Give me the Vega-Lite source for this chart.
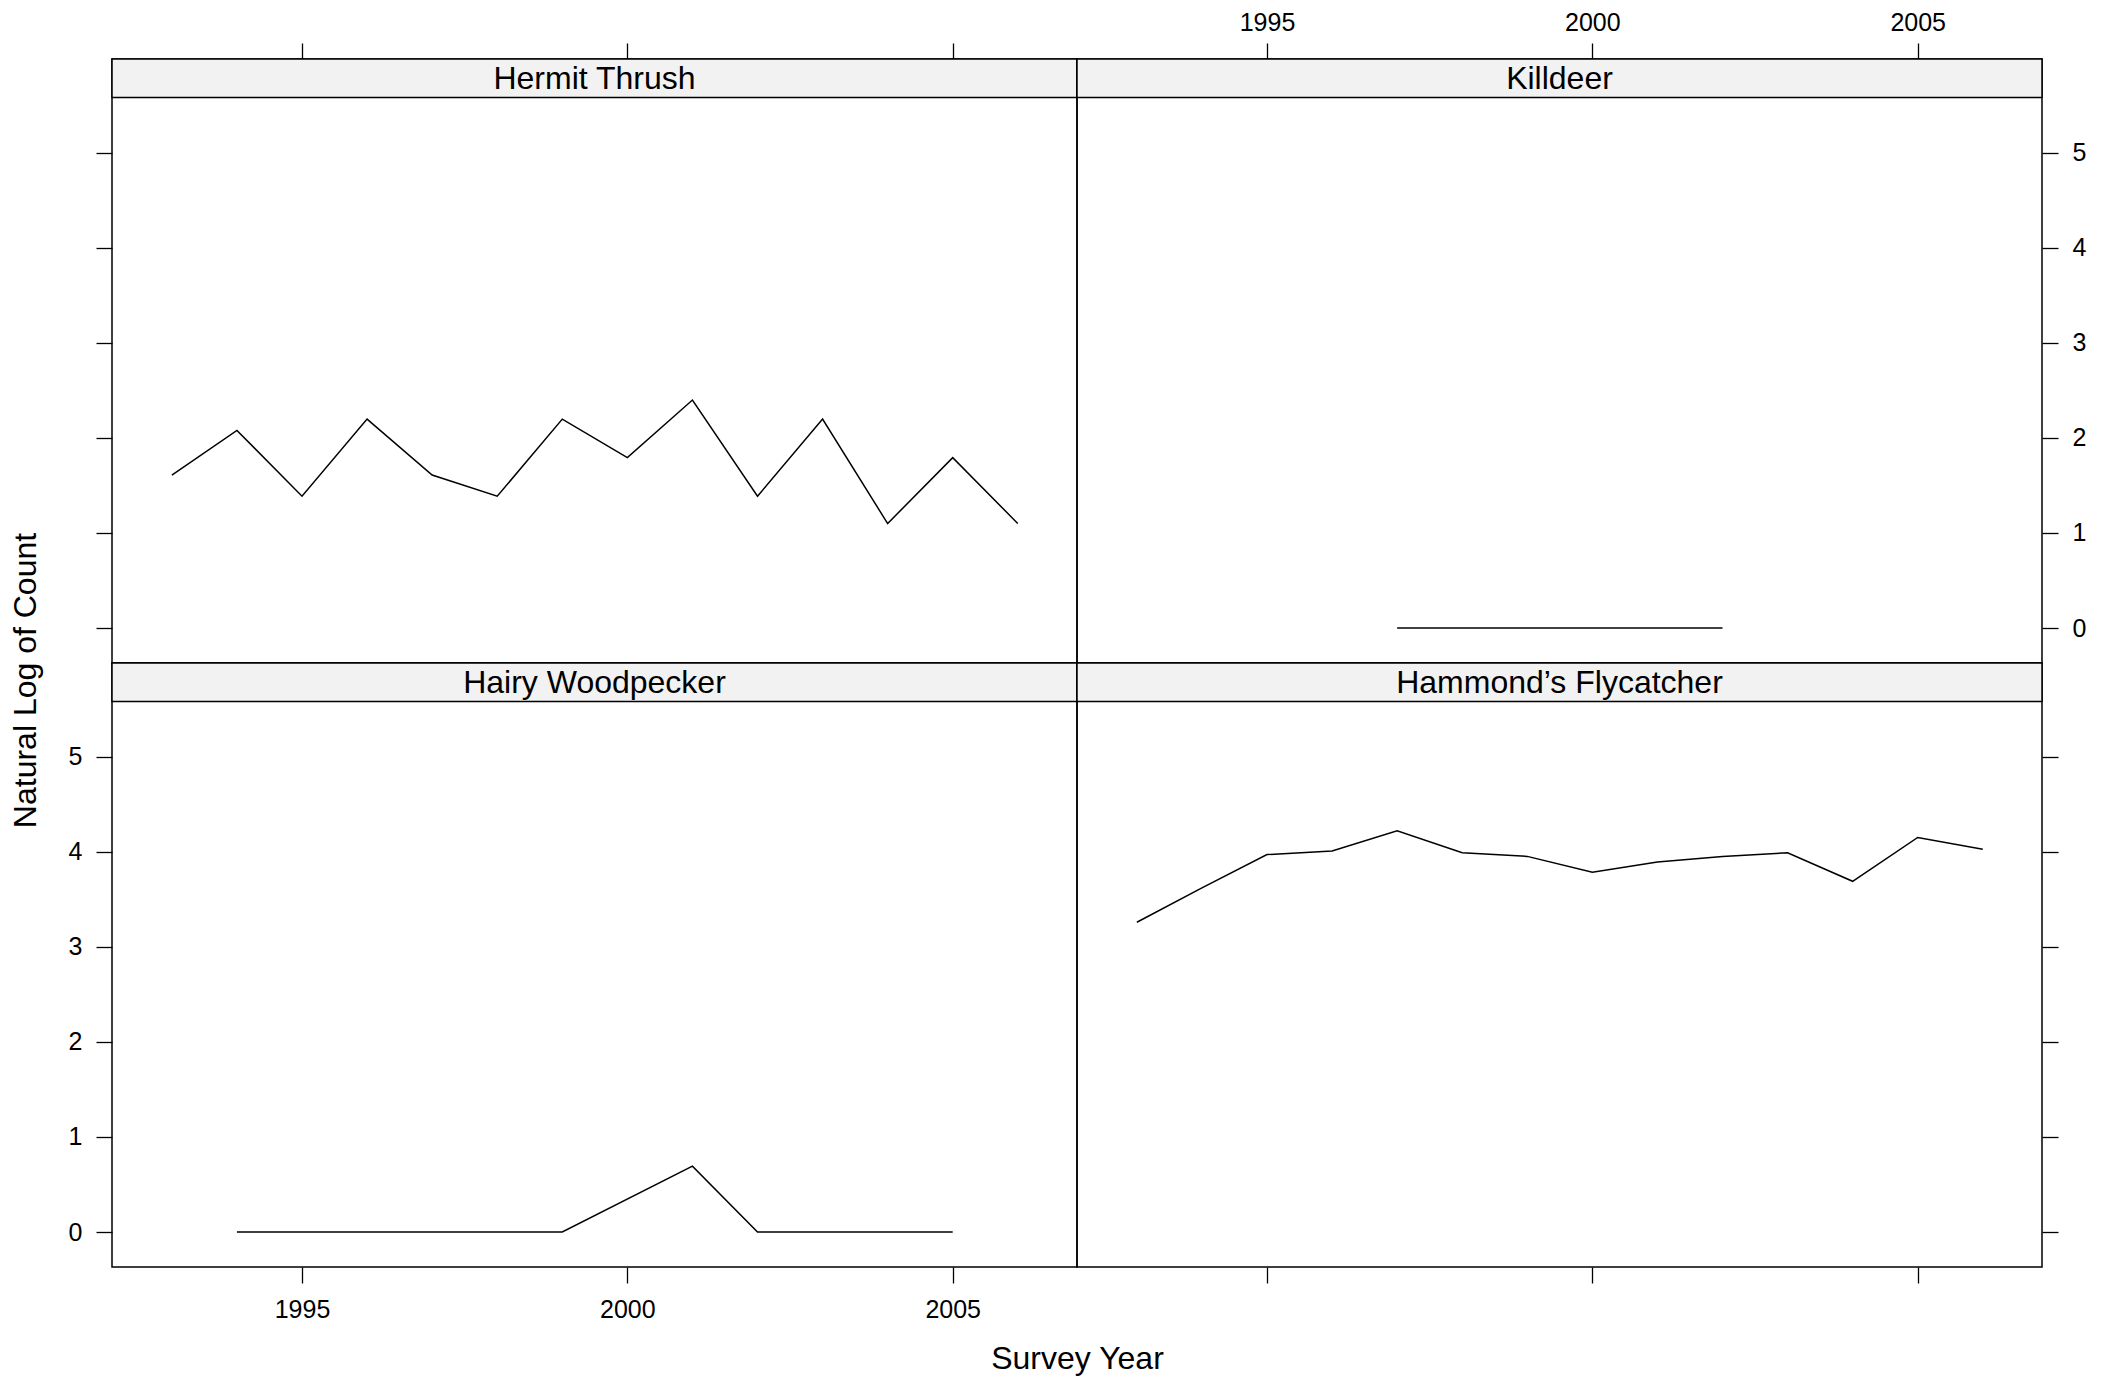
{
  "$schema": "https://vega.github.io/schema/vega-lite/v6.json",
  "padding": {"left": 8, "top": 9, "right": 10, "bottom": 10},
  "background": "white",
  "config": {
    "view": {"stroke": "black", "strokeWidth": 1.5},
    "axis": {
      "domain": false, "grid": false, "ticks": true, "tickSize": 16, "tickColor": "black", "tickWidth": 1.3,
      "labelFont": "Liberation Sans", "labelFontSize": 25, "labelColor": "black",
      "labelFlush": false, "labelOverlap": false,
      "titleFont": "Liberation Sans", "titleFontSize": 32, "titleFontWeight": "normal", "titleColor": "black"
    }
  },
  "data": {"values": [
    {"species": "Hermit Thrush", "year": 1993, "lncount": 1.609},
    {"species": "Hermit Thrush", "year": 1994, "lncount": 2.079},
    {"species": "Hermit Thrush", "year": 1995, "lncount": 1.386},
    {"species": "Hermit Thrush", "year": 1996, "lncount": 2.197},
    {"species": "Hermit Thrush", "year": 1997, "lncount": 1.609},
    {"species": "Hermit Thrush", "year": 1998, "lncount": 1.386},
    {"species": "Hermit Thrush", "year": 1999, "lncount": 2.197},
    {"species": "Hermit Thrush", "year": 2000, "lncount": 1.792},
    {"species": "Hermit Thrush", "year": 2001, "lncount": 2.398},
    {"species": "Hermit Thrush", "year": 2002, "lncount": 1.386},
    {"species": "Hermit Thrush", "year": 2003, "lncount": 2.197},
    {"species": "Hermit Thrush", "year": 2004, "lncount": 1.099},
    {"species": "Hermit Thrush", "year": 2005, "lncount": 1.792},
    {"species": "Hermit Thrush", "year": 2006, "lncount": 1.099},
    {"species": "Killdeer", "year": 1997, "lncount": 0},
    {"species": "Killdeer", "year": 1998, "lncount": 0},
    {"species": "Killdeer", "year": 1999, "lncount": 0},
    {"species": "Killdeer", "year": 2000, "lncount": 0},
    {"species": "Killdeer", "year": 2001, "lncount": 0},
    {"species": "Killdeer", "year": 2002, "lncount": 0},
    {"species": "Hairy Woodpecker", "year": 1994, "lncount": 0},
    {"species": "Hairy Woodpecker", "year": 1995, "lncount": 0},
    {"species": "Hairy Woodpecker", "year": 1996, "lncount": 0},
    {"species": "Hairy Woodpecker", "year": 1997, "lncount": 0},
    {"species": "Hairy Woodpecker", "year": 1998, "lncount": 0},
    {"species": "Hairy Woodpecker", "year": 1999, "lncount": 0},
    {"species": "Hairy Woodpecker", "year": 2001, "lncount": 0.693},
    {"species": "Hairy Woodpecker", "year": 2002, "lncount": 0},
    {"species": "Hairy Woodpecker", "year": 2003, "lncount": 0},
    {"species": "Hairy Woodpecker", "year": 2004, "lncount": 0},
    {"species": "Hairy Woodpecker", "year": 2005, "lncount": 0},
    {"species": "Hammond’s Flycatcher", "year": 1993, "lncount": 3.258},
    {"species": "Hammond’s Flycatcher", "year": 1994, "lncount": 3.62},
    {"species": "Hammond’s Flycatcher", "year": 1995, "lncount": 3.970},
    {"species": "Hammond’s Flycatcher", "year": 1996, "lncount": 4.007},
    {"species": "Hammond’s Flycatcher", "year": 1997, "lncount": 4.220},
    {"species": "Hammond’s Flycatcher", "year": 1998, "lncount": 3.989},
    {"species": "Hammond’s Flycatcher", "year": 1999, "lncount": 3.951},
    {"species": "Hammond’s Flycatcher", "year": 2000, "lncount": 3.784},
    {"species": "Hammond’s Flycatcher", "year": 2001, "lncount": 3.892},
    {"species": "Hammond’s Flycatcher", "year": 2002, "lncount": 3.951},
    {"species": "Hammond’s Flycatcher", "year": 2003, "lncount": 3.989},
    {"species": "Hammond’s Flycatcher", "year": 2004, "lncount": 3.689},
    {"species": "Hammond’s Flycatcher", "year": 2005, "lncount": 4.150},
    {"species": "Hammond’s Flycatcher", "year": 2006, "lncount": 4.025}
  ]},
  "columns": 2,
  "spacing": 0,
  "bounds": "flush",
  "concat": [
    {
      "width": 965, "height": 604,
      "layer": [
        {"data": {"values": [{"label": "Hermit Thrush"}]},
         "mark": {"type": "rect", "fill": "#f2f2f2", "stroke": "black", "strokeWidth": 1.5},
         "encoding": {
           "x": {"datum": 1992.08, "type": "quantitative", "scale": {"domain": [1992.08, 2006.91], "nice": false, "zero": false}},
           "x2": {"datum": 2006.91},
           "y": {"datum": 5.58, "type": "quantitative", "scale": {"domain": [-0.368, 5.985], "nice": false, "zero": false}},
           "y2": {"datum": 5.985}}},
        {"data": {"values": [{"label": "Hermit Thrush"}]},
         "mark": {"type": "text", "font": "Liberation Sans", "fontSize": 32, "baseline": "middle", "color": "black"},
         "encoding": {
           "x": {"datum": 1999.495, "type": "quantitative"},
           "y": {"datum": 5.77, "type": "quantitative"},
           "text": {"field": "label"}}},
        {"transform": [{"filter": "datum.species === 'Hermit Thrush'"}],
         "mark": {"type": "line", "color": "black", "strokeWidth": 1.5},
         "encoding": {
           "x": {"field": "year", "type": "quantitative", "scale": {"domain": [1992.08, 2006.91], "nice": false, "zero": false},
                 "axis": {"orient": "top", "labels": false, "title": null, "values": [1995, 2000, 2005]}},
           "y": {"field": "lncount", "type": "quantitative", "scale": {"domain": [-0.368, 5.985], "nice": false, "zero": false},
                 "axis": {"orient": "left", "labels": false, "title": null, "values": [0, 1, 2, 3, 4, 5]}}}}
      ]
    },
    {
      "width": 965, "height": 604,
      "layer": [
        {"data": {"values": [{"label": "Killdeer"}]},
         "mark": {"type": "rect", "fill": "#f2f2f2", "stroke": "black", "strokeWidth": 1.5},
         "encoding": {
           "x": {"datum": 1992.08, "type": "quantitative", "scale": {"domain": [1992.08, 2006.91], "nice": false, "zero": false}},
           "x2": {"datum": 2006.91},
           "y": {"datum": 5.58, "type": "quantitative", "scale": {"domain": [-0.368, 5.985], "nice": false, "zero": false}},
           "y2": {"datum": 5.985}}},
        {"data": {"values": [{"label": "Killdeer"}]},
         "mark": {"type": "text", "font": "Liberation Sans", "fontSize": 32, "baseline": "middle", "color": "black"},
         "encoding": {
           "x": {"datum": 1999.495, "type": "quantitative"},
           "y": {"datum": 5.77, "type": "quantitative"},
           "text": {"field": "label"}}},
        {"transform": [{"filter": "datum.species === 'Killdeer'"}],
         "mark": {"type": "line", "color": "black", "strokeWidth": 1.5},
         "encoding": {
           "x": {"field": "year", "type": "quantitative", "scale": {"domain": [1992.08, 2006.91], "nice": false, "zero": false},
                 "axis": {"orient": "top", "title": null, "labelBaseline": "alphabetic", "labelPadding": 13, "values": [1995, 2000, 2005], "format": "d"}},
           "y": {"field": "lncount", "type": "quantitative", "scale": {"domain": [-0.368, 5.985], "nice": false, "zero": false},
                 "axis": {"orient": "right", "title": null, "labelPadding": 14, "values": [0, 1, 2, 3, 4, 5], "format": "d"}}}}
      ]
    },
    {
      "width": 965, "height": 604,
      "layer": [
        {"data": {"values": [{"label": "Hairy Woodpecker"}]},
         "mark": {"type": "rect", "fill": "#f2f2f2", "stroke": "black", "strokeWidth": 1.5},
         "encoding": {
           "x": {"datum": 1992.08, "type": "quantitative", "scale": {"domain": [1992.08, 2006.91], "nice": false, "zero": false}},
           "x2": {"datum": 2006.91},
           "y": {"datum": 5.58, "type": "quantitative", "scale": {"domain": [-0.368, 5.985], "nice": false, "zero": false}},
           "y2": {"datum": 5.985}}},
        {"data": {"values": [{"label": "Hairy Woodpecker"}]},
         "mark": {"type": "text", "font": "Liberation Sans", "fontSize": 32, "baseline": "middle", "color": "black"},
         "encoding": {
           "x": {"datum": 1999.495, "type": "quantitative"},
           "y": {"datum": 5.77, "type": "quantitative"},
           "text": {"field": "label"}}},
        {"transform": [{"filter": "datum.species === 'Hairy Woodpecker'"}],
         "mark": {"type": "line", "color": "black", "strokeWidth": 1.5},
         "encoding": {
           "x": {"field": "year", "type": "quantitative", "scale": {"domain": [1992.08, 2006.91], "nice": false, "zero": false},
                 "axis": {"orient": "bottom", "title": "Survey Year", "labelBaseline": "alphabetic", "labelPadding": 34, "values": [1995, 2000, 2005], "format": "d",
                          "titleX": 965, "titleY": 101, "titleBaseline": "alphabetic", "titleAlign": "center"}},
           "y": {"field": "lncount", "type": "quantitative", "scale": {"domain": [-0.368, 5.985], "nice": false, "zero": false},
                 "axis": {"orient": "left", "title": "Natural Log of Count", "labelPadding": 14, "values": [0, 1, 2, 3, 4, 5], "format": "d",
                          "titleAngle": 270, "titleX": -77, "titleY": 17, "titleBaseline": "alphabetic", "titleAlign": "center"}}}}
      ]
    },
    {
      "width": 965, "height": 604,
      "layer": [
        {"data": {"values": [{"label": "Hammond’s Flycatcher"}]},
         "mark": {"type": "rect", "fill": "#f2f2f2", "stroke": "black", "strokeWidth": 1.5},
         "encoding": {
           "x": {"datum": 1992.08, "type": "quantitative", "scale": {"domain": [1992.08, 2006.91], "nice": false, "zero": false}},
           "x2": {"datum": 2006.91},
           "y": {"datum": 5.58, "type": "quantitative", "scale": {"domain": [-0.368, 5.985], "nice": false, "zero": false}},
           "y2": {"datum": 5.985}}},
        {"data": {"values": [{"label": "Hammond’s Flycatcher"}]},
         "mark": {"type": "text", "font": "Liberation Sans", "fontSize": 32, "baseline": "middle", "color": "black"},
         "encoding": {
           "x": {"datum": 1999.495, "type": "quantitative"},
           "y": {"datum": 5.77, "type": "quantitative"},
           "text": {"field": "label"}}},
        {"transform": [{"filter": "datum.species === 'Hammond’s Flycatcher'"}],
         "mark": {"type": "line", "color": "black", "strokeWidth": 1.5},
         "encoding": {
           "x": {"field": "year", "type": "quantitative", "scale": {"domain": [1992.08, 2006.91], "nice": false, "zero": false},
                 "axis": {"orient": "bottom", "labels": false, "title": null, "values": [1995, 2000, 2005]}},
           "y": {"field": "lncount", "type": "quantitative", "scale": {"domain": [-0.368, 5.985], "nice": false, "zero": false},
                 "axis": {"orient": "right", "labels": false, "title": null, "values": [0, 1, 2, 3, 4, 5]}}}}
      ]
    }
  ]
}
